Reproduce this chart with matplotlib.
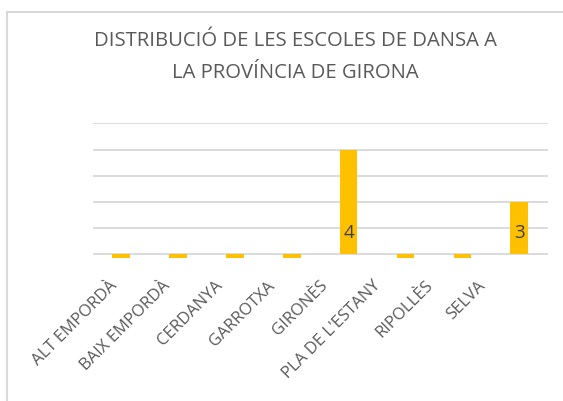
import matplotlib
matplotlib.use("Agg")
import matplotlib.pyplot as plt
from matplotlib.lines import Line2D
import matplotlib.transforms as mtrans
import numpy as np

categories = ["ALT EMPORDÀ", "BAIX EMPORDÀ", "CERDANYA", "GARROTXA", "GIRONÈS",
              "PLA DE L'ESTANY", "RIPOLLÈS", "SELVA"]
values = [0, 0, 0, 0, 4, 0, 0, 3]
title = "DISTRIBUCIÓ DE LES ESCOLES DE DANSA A\nLA PROVÍNCIA DE GIRONA"
axis_min = 2.0
axis_max = 4.5
axis_step = 0.5

plt.rcParams['font.family'] = ['Open Sans', 'DejaVu Sans']
W, H = 563, 401
fig = plt.figure(figsize=(W/100, H/100), dpi=100)
fig.patch.set_facecolor('white')

# chart border (left and top visible)
fig.add_artist(Line2D([6.5/W, 6.5/W], [0, 1 - 12/H], color='#d9d9d9', lw=1.5, transform=fig.transFigure))
fig.add_artist(Line2D([6.5/W, 1], [1 - 12/H, 1 - 12/H], color='#d9d9d9', lw=1.5, transform=fig.transFigure))

left, right = 92.7, 547.7
top_px, bot_px = 123.3, 254.3
ext = 3.5
ax = fig.add_axes([left/W, 1 - (bot_px+ext)/H, (right-left)/W, (bot_px+ext-top_px)/H])
unit = (bot_px - top_px) / (axis_max - axis_min)
ymin = axis_min - ext/unit
ax.set_ylim(ymin, axis_max)
x = np.arange(len(categories))
ax.set_xlim(-0.5, len(categories) - 0.5)

for g in np.arange(axis_min, axis_max + 1e-9, axis_step):
    ax.axhline(g, color='#d9d9d9', lw=1.3, zorder=0)

vals = np.array(values, dtype=float)
ax.bar(x, vals - axis_min, bottom=axis_min, width=0.31, color='#ffc000', zorder=2)

for xi, v in zip(x, values):
    if v > axis_min:
        ax.text(xi, axis_min + 0.40, str(v), ha='center', va='center',
                fontsize=13.5, color='#404040', zorder=3)

for s in ax.spines.values():
    s.set_visible(False)
ax.set_yticks([])
ax.set_xticks(x)
ax.set_xticklabels(categories, rotation=45, ha='right', va='baseline',
                   rotation_mode='anchor', fontsize=12, color='#595959')
ax.tick_params(axis='x', length=0, pad=20.5)
for i, lab in enumerate(ax.get_xticklabels()):
    off = mtrans.ScaledTranslation((-3 - 4.4*i)/100, 0, fig.dpi_scale_trans)
    lab.set_transform(lab.get_transform() + off)

fig.text(295/W, 1 - 57/H, title, ha='center', va='center', fontsize=14.6,
         color='#595959', linespacing=1.85)

fig.savefig("out.png", dpi=100, facecolor='white')
